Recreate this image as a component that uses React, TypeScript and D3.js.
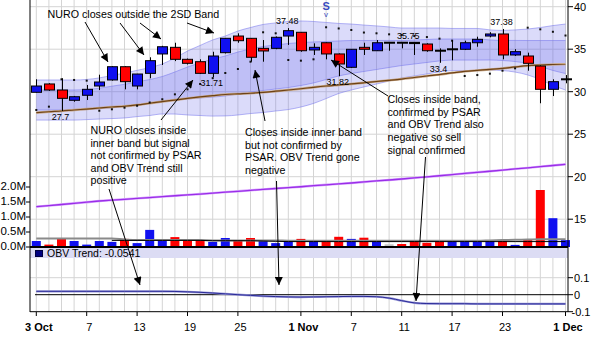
import React from "react";
import * as d3 from "d3";

const W = 598;
const H = 340;

// ---- data (43 trading days, 3 Oct – 1 Dec) ----
const openP = [29.93, 30.91, 30.2, 28.99, 29.58, 30.67, 31.38, 32.94, 30.67, 32.16, 34.44, 35.22, 33.81, 33.53, 32.16, 34.59, 36.55, 36.28, 35.1, 35.1, 36.55, 36.99, 34.91, 35.76, 34.44, 32.87, 35.22, 34.82, 35.76, 35.76, 35.75, 35.61, 34.82, 34.99, 34.99, 35.76, 36.55, 36.79, 34.32, 34.2, 33.02, 30.28, 31.46];
const highP = [31.46, 31.0, 31.58, 29.5, 30.79, 32.0, 33.0, 33.0, 32.1, 34.05, 35.4, 35.76, 33.9, 33.81, 34.7, 36.3, 36.87, 36.3, 36.08, 36.5, 37.48, 37.0, 35.69, 35.8, 34.5, 35.0, 35.76, 36.08, 35.8, 35.8, 35.75, 35.7, 35.1, 36.08, 36.0, 36.47, 37.0, 37.38, 35.0, 34.59, 33.1, 31.46, 31.96];
const lowP = [29.9, 30.1, 27.73, 28.82, 29.02, 30.2, 31.3, 30.28, 30.28, 31.58, 33.14, 33.6, 33.2, 32.08, 31.71, 34.5, 35.76, 33.53, 33.53, 35.0, 35.5, 34.7, 34.32, 33.81, 31.82, 32.8, 34.32, 34.8, 34.82, 35.1, 34.32, 34.7, 33.4, 33.7, 34.9, 35.29, 36.4, 33.81, 34.2, 32.47, 28.64, 29.49, 30.99];
const closeP = [30.67, 30.2, 29.22, 29.41, 30.28, 31.14, 32.94, 31.18, 32.08, 33.65, 35.29, 33.81, 33.34, 32.16, 34.2, 36.28, 36.0, 34.05, 34.79, 36.4, 37.18, 34.82, 35.22, 34.44, 33.26, 34.99, 34.99, 35.76, 35.76, 35.76, 35.72, 34.82, 34.82, 34.99, 35.76, 36.16, 36.79, 34.32, 34.71, 33.34, 30.28, 31.18, 31.46];

const psar = [27.85, 28.24, 31.46, 31.38, 31.3, 27.76, 27.93, 28.12, 28.35, 28.73, 29.11, 29.69, 30.28, 30.91, 31.6, 32.2, 32.67, 33.53, 36.99, 36.87, 33.73, 33.65, 33.81, 37.58, 37.44, 37.26, 36.96, 36.87, 36.75, 36.67, 36.55, 36.43, 36.24, 36.0, 31.85, 31.96, 32.12, 32.47, 32.75, 37.53, 37.34, 37.05, 36.61];

const bandMid = [29.02, 29.02, 29.02, 29.02, 29.08, 29.2, 29.38, 29.55, 29.79, 30.02, 30.32, 30.67, 31.02, 31.32, 31.61, 31.85, 32.2, 32.49, 32.73, 32.91, 33.08, 33.26, 33.44, 33.67, 33.91, 34.08, 34.2, 34.32, 34.44, 34.55, 34.67, 34.79, 34.91, 34.96, 34.96, 34.96, 34.91, 34.85, 34.79, 34.67, 34.49, 34.26, 34.08];
const bandSd = [1.18, 1.18, 1.18, 1.18, 1.18, 1.21, 1.27, 1.32, 1.36, 1.41, 1.47, 1.65, 1.88, 2.06, 2.24, 2.35, 2.47, 2.53, 2.59, 2.59, 2.59, 2.53, 2.41, 2.24, 2.06, 1.94, 1.82, 1.71, 1.59, 1.47, 1.41, 1.35, 1.29, 1.24, 1.24, 1.24, 1.18, 1.18, 1.24, 1.35, 1.53, 1.76, 1.94];

const maShort = [27.53, 27.64, 27.73, 27.85, 27.96, 28.08, 28.2, 28.29, 28.44, 28.64, 28.84, 29.02, 29.21, 29.38, 29.53, 29.67, 29.75, 29.82, 29.92, 30.06, 30.2, 30.35, 30.52, 30.67, 30.79, 30.91, 31.05, 31.2, 31.34, 31.49, 31.67, 31.85, 32.01, 32.22, 32.39, 32.51, 32.62, 32.75, 32.91, 33.06, 33.14, 33.2, 33.26];
const maLong = [16.47, 16.6, 16.73, 16.87, 17.0, 17.14, 17.25, 17.34, 17.45, 17.55, 17.66, 17.76, 17.86, 17.96, 18.07, 18.18, 18.28, 18.4, 18.51, 18.61, 18.72, 18.82, 18.94, 19.05, 19.15, 19.26, 19.38, 19.51, 19.61, 19.73, 19.86, 19.98, 20.11, 20.25, 20.38, 20.52, 20.64, 20.78, 20.92, 21.04, 21.19, 21.32, 21.46];

const volume = [0.2, 0.08, 0.27, 0.2, 0.08, 0.2, 0.17, 0.27, 0.13, 0.57, 0.2, 0.33, 0.23, 0.23, 0.17, 0.3, 0.2, 0.3, 0.23, 0.13, 0.2, 0.27, 0.2, 0.23, 0.34, 0.27, 0.31, 0.2, 0.09, 0.1, 0.2, 0.14, 0.2, 0.2, 0.23, 0.18, 0.2, 0.23, 0.07, 0.26, 1.9, 0.96, 0.23];
const volDir = ["u", "d", "d", "u", "u", "u", "u", "d", "u", "u", "u", "d", "d", "d", "u", "u", "d", "d", "u", "u", "u", "d", "u", "d", "d", "u", "d", "u", "n", "d", "d", "d", "d", "u", "u", "u", "u", "d", "u", "d", "d", "u", "u"];
const volAvg = [0.28, 0.28, 0.28, 0.28, 0.28, 0.28, 0.28, 0.25, 0.23, 0.23, 0.23, 0.23, 0.23, 0.23, 0.22, 0.22, 0.22, 0.22, 0.22, 0.22, 0.21, 0.21, 0.21, 0.21, 0.21, 0.21, 0.21, 0.21, 0.21, 0.21, 0.21, 0.21, 0.21, 0.21, 0.21, 0.21, 0.22, 0.23, 0.24, 0.25, 0.26, 0.26, 0.26];
const volAvg2 = [null, null, null, null, null, null, 0.22, 0.22, 0.22, 0.22, 0.22, 0.22, 0.22, 0.22, 0.21, 0.21, 0.21, 0.21, 0.2, 0.19, 0.18, 0.18, 0.18, 0.18, 0.18, 0.18, 0.18, 0.18, 0.18, 0.18, 0.18, 0.18, 0.18, 0.18, 0.18, 0.18, 0.18, 0.18, 0.18, 0.18, 0.18, 0.18, 0.18];

const obvTrend = [0.02, 0.02, 0.02, 0.02, 0.02, 0.02, 0.02, 0.02, 0.02, 0.02, 0.02, 0.019, 0.017, 0.014, 0.01, 0.005, 0.0, -0.004, -0.008, -0.011, -0.013, -0.014, -0.013, -0.012, -0.011, -0.01, -0.01, -0.012, -0.02, -0.035, -0.048, -0.052, -0.053, -0.053, -0.053, -0.054, -0.054, -0.054, -0.054, -0.054, -0.0541, -0.0541, -0.0541];

const tickIdx = [0, 4, 8, 12, 16, 21, 25, 29, 33, 37, 42];
const tickLabels = ["3 Oct", "7", "13", "19", "25", "1 Nov", "7", "11", "17", "23", "1 Dec"];
const tickBold = [true, false, false, false, false, true, false, false, false, false, true];

const priceTicks = [40, 35, 30, 25, 20, 15];
const volTicks = [0, 0.5, 1.0, 1.5, 2.0];
const volTickLabels = ["0.0M", "0.5M", "1.0M", "1.5M", "2.0M"];
const obvTicks = [0.1, 0, -0.1];
const obvTickLabels = ["0.1", "0", "-0.1"];

const valueLabels = [
  { i: 2, v: 27.7, text: "27.7", pos: "low" },
  { i: 14, v: 31.71, text: "31.71", pos: "low" },
  { i: 20, v: 37.48, text: "37.48", pos: "high" },
  { i: 24, v: 31.82, text: "31.82", pos: "low" },
  { i: 30, v: 35.75, text: "35.75", pos: "high" },
  { i: 32, v: 33.4, text: "33.4", pos: "low" },
  { i: 37, v: 37.38, text: "37.38", pos: "high" },
];

const sellIdx = 23;
const obvLegend = "OBV Trend: -0.0541";

const note1 = ["NURO closes outside the 2SD Band"];
const note2 = ["NURO closes inside", "inner band but signal", "not confirmed by PSAR", "and OBV Trend still", "positive"];
const note3 = ["Closes inside inner band", "but not confirmed by", "PSAR. OBV Trend gone", "negative"];
const note4 = ["Closes inside band,", "confirmed by PSAR", "and OBV Trend also", "negative so sell", "signal confirmed"];

const arrows: [number, number, number, number][] = [
  [85, 22, 108, 62],
  [120, 23, 144, 55],
  [140, 23, 161, 39],
  [187, 23, 214, 33],
  [161, 120, 193, 80],
  [109, 189, 140, 285],
  [265, 121, 255, 70],
  [276.5, 181, 279, 285],
  [388, 96, 331, 60],
  [425.5, 157, 416, 301],
];

const FONT = "'Liberation Sans', Arial, sans-serif";

export default function App() {
  const L = 30, R = 568;
  const x = d3.scaleLinear().domain([0, 42]).range([36.3, 565.5]);
  const yP = d3.scaleLinear().domain([15, 40]).range([219.2, 6.7]);
  const yV = d3.scaleLinear().domain([0, 2]).range([247, 187]);
  const yO = d3.scaleLinear().domain([-0.1, 0.1]).range([311.7, 277.7]);
  const idx = d3.range(openP.length);

  const outerArea = d3.area<number>()
    .x((i) => x(i))
    .y0((i) => yP(bandMid[i] + 2 * bandSd[i]))
    .y1((i) => yP(bandMid[i] - 2 * bandSd[i]))
    .curve(d3.curveMonotoneX);
  const innerArea = d3.area<number>()
    .x((i) => x(i))
    .y0((i) => yP(bandMid[i] + bandSd[i]))
    .y1((i) => yP(bandMid[i] - bandSd[i]))
    .curve(d3.curveMonotoneX);
  const bandLine = (k: number) =>
    d3.line<number>().x((i) => x(i)).y((i) => yP(bandMid[i] + k * bandSd[i])).curve(d3.curveMonotoneX)(idx) || "";

  const maShortPath = d3.line<number>().x((i) => x(i)).y((i) => yP(maShort[i])).curve(d3.curveMonotoneX)(idx) || "";
  const maLongPath = d3.line<number>().x((i) => x(i)).y((i) => yP(maLong[i]))(idx) || "";
  const volAvgPath = d3.line<number>().x((i) => x(i)).y((i) => yV(volAvg[i])).curve(d3.curveMonotoneX)(idx) || "";
  const volAvg2Path = d3.line<number>()
    .defined((i) => volAvg2[i] != null)
    .x((i) => x(i)).y((i) => yV(volAvg2[i] as number))(idx) || "";
  const obvPath = d3.line<number>().x((i) => x(i)).y((i) => yO(obvTrend[i])).curve(d3.curveMonotoneX)(idx) || "";

  const volColor = (d: string) => (d === "u" ? "#1010f0" : d === "d" ? "#ff0000" : "#c4c4c4");

  const renderNote = (lines: string[], x0: number, y0: number, lh: number) => (
    <text x={x0} y={y0} fontSize={10.7} fontFamily={FONT} fill="#000">
      {lines.map((s, k) => (
        <tspan key={k} x={x0} y={y0 + k * lh}>{s}</tspan>
      ))}
    </text>
  );

  return (
    <svg width={W} height={H} viewBox={`0 0 ${W} ${H}`} style={{ position: "absolute", left: 0, top: 0, background: "#fff" }}>
      <defs>
        <marker id="ah" viewBox="0 0 10 10" refX="10" refY="5" markerWidth="9" markerHeight="8" markerUnits="userSpaceOnUse" orient="auto">
          <path d="M0,0 L10,5 L0,10 z" fill="#000" />
        </marker>
        <clipPath id="plot">
          <rect x={L} y={0} width={R - L} height={247} />
        </clipPath>
      </defs>
      <rect x={0} y={0} width={W} height={H} fill="#fff" />

      {/* vertical grid */}
      {idx.map((i) => (
        <line key={"vg" + i} x1={x(i)} x2={x(i)} y1={0} y2={311.7} stroke="#d4d4d4" strokeWidth={1} />
      ))}
      {/* horizontal grid (price) */}
      {priceTicks.map((p) => (
        <line key={"hg" + p} x1={L} x2={R} y1={yP(p)} y2={yP(p)} stroke="#d4d4d4" strokeWidth={1} />
      ))}
      <line x1={L} x2={R} y1={yO(0.1)} y2={yO(0.1)} stroke="#d4d4d4" strokeWidth={1} />

      {/* bands */}
      <g clipPath="url(#plot)">
        <path d={outerArea(idx) || ""} fill="rgba(100,100,232,0.23)" />
        <path d={innerArea(idx) || ""} fill="rgba(100,100,232,0.23)" />
        {[-2, -1, 1, 2].map((k) => (
          <path key={"bl" + k} d={bandLine(k)} fill="none" stroke="rgba(110,110,235,0.5)" strokeWidth={1} />
        ))}
        <path d={maShortPath} fill="none" stroke="#c8a888" strokeWidth={2.4} />
        <path d={maShortPath} fill="none" stroke="#6e4216" strokeWidth={1.2} />
        <path d={maLongPath} fill="none" stroke="#d9a6ff" strokeWidth={2.4} />
        <path d={maLongPath} fill="none" stroke="#9a2ee8" strokeWidth={1.3} />
      </g>

      {/* PSAR dots */}
      {idx.map((i) => (
        <rect key={"ps" + i} x={x(i) - 1} y={yP(psar[i]) - 1} width={2} height={2} fill="#111" />
      ))}

      {/* candles */}
      {idx.map((i) => {
        const o = openP[i], c = closeP[i];
        const xc = Math.round(x(i)) + 0.5;
        const top = yP(Math.max(o, c));
        const bot = yP(Math.min(o, c));
        const doji = Math.abs(o - c) < 0.06;
        return (
          <g key={"c" + i}>
            <line x1={xc} x2={xc} y1={yP(highP[i])} y2={yP(lowP[i])} stroke="#000" strokeWidth={1} />
            {doji ? (
              <rect x={xc - 5.5} y={top - 1} width={11} height={Math.max(2, bot - top + 2)} fill="#000" />
            ) : (
              <rect x={xc - 5} y={top} width={10} height={bot - top} fill={c > o ? "#1010f0" : "#ff0000"} stroke="#000" strokeWidth={1} />
            )}
          </g>
        );
      })}

      {/* value labels */}
      {valueLabels.map((lb, k) => (
        <text key={"vl" + k} x={x(lb.i) - (lb.i === 30 ? 6 : 1)} y={lb.pos === "high" ? yP(lb.v) - 4 : yP(lb.v) + 9}
          fontSize={9} fontFamily={FONT} textAnchor="middle" fill="#000">{lb.text}</text>
      ))}

      {/* sell marker */}
      <text x={x(sellIdx)} y={9.5} fontSize={11} fontWeight="bold" fontFamily={FONT} textAnchor="middle" fill="#3a4cc0">S</text>
      <text x={x(sellIdx)} y={17} fontSize={8} fontFamily={FONT} textAnchor="middle" fill="#3a4cc0">v</text>

      {/* volume bars */}
      {idx.map((i) => (
        <rect key={"v" + i} x={x(i) - 4.5} y={yV(volume[i])} width={9} height={yV(0) - yV(volume[i])} fill={volColor(volDir[i])} />
      ))}
      <path d={volAvgPath} fill="none" stroke="#8a8a8a" strokeWidth={2} />
      <path d={volAvg2Path} fill="none" stroke="#000" strokeWidth={1} />

      {/* OBV panel */}
      <rect x={L} y={248} width={R - L} height={10} fill="#dcdcf4" />
      <rect x={35.5} y={250.5} width={7} height={6} fill="#000080" stroke="#000040" strokeWidth={1} />
      <text x={47} y={257} fontSize={10.5} fontFamily={FONT} fill="#000">{obvLegend}</text>
      <line x1={35} x2={R} y1={yO(0)} y2={yO(0)} stroke="#000" strokeWidth={1} />
      <path d={obvPath} fill="none" stroke="#9a9ad8" strokeWidth={2.2} />
      <path d={obvPath} fill="none" stroke="#2a2a98" strokeWidth={1} />

      {/* frame */}
      <line x1={L} x2={L} y1={0} y2={312} stroke="#000" strokeWidth={1} />
      <line x1={R} x2={R} y1={0} y2={312} stroke="#000" strokeWidth={1} />
      <line x1={L} x2={R} y1={247} y2={247} stroke="#000" strokeWidth={2} />
      <line x1={L} x2={R} y1={311.7} y2={311.7} stroke="#000" strokeWidth={1} />

      {/* right price axis */}
      {priceTicks.map((p) => (
        <g key={"pt" + p}>
          <line x1={R} x2={R + 5} y1={yP(p)} y2={yP(p)} stroke="#000" />
          <text x={574} y={yP(p)} dy="0.36em" fontSize={11} fontFamily={FONT} fill="#000">{p}</text>
        </g>
      ))}
      {/* left volume axis */}
      {volTicks.map((v, k) => (
        <g key={"vt" + k}>
          <line x1={L - 4} x2={L} y1={yV(v)} y2={yV(v)} stroke="#000" />
          <text x={26} y={yV(v) - 1} dy="0.36em" fontSize={11.5} fontFamily={FONT} textAnchor="end" fill="#000">{volTickLabels[k]}</text>
        </g>
      ))}
      {/* OBV axis */}
      {obvTicks.map((v, k) => (
        <g key={"ot" + k}>
          <line x1={R} x2={R + 5} y1={yO(v)} y2={yO(v)} stroke="#000" />
          <text x={v < 0 ? 571.5 : 574} y={yO(v)} dy="0.36em" fontSize={11} fontFamily={FONT} fill="#000">{obvTickLabels[k]}</text>
        </g>
      ))}
      {/* x axis */}
      {tickIdx.map((i, k) => (
        <g key={"xt" + k}>
          <line x1={x(i)} x2={x(i)} y1={312} y2={316} stroke="#000" />
          <text x={x(i) + 2.5} y={331} fontSize={11} fontWeight={tickBold[k] ? "bold" : "normal"} fontFamily={FONT} textAnchor="middle" fill="#000">{tickLabels[k]}</text>
        </g>
      ))}

      {/* annotations */}
      {renderNote(note1, 47.5, 18, 12.7)}
      {renderNote(note2, 90.5, 134, 12.6)}
      {renderNote(note3, 245, 136, 12.5)}
      {renderNote(note4, 387.5, 103, 12.7)}
      {arrows.map((a, k) => (
        <line key={"ar" + k} x1={a[0]} y1={a[1]} x2={a[2]} y2={a[3]} stroke="#000" strokeWidth={1} markerEnd="url(#ah)" />
      ))}
    </svg>
  );
}
